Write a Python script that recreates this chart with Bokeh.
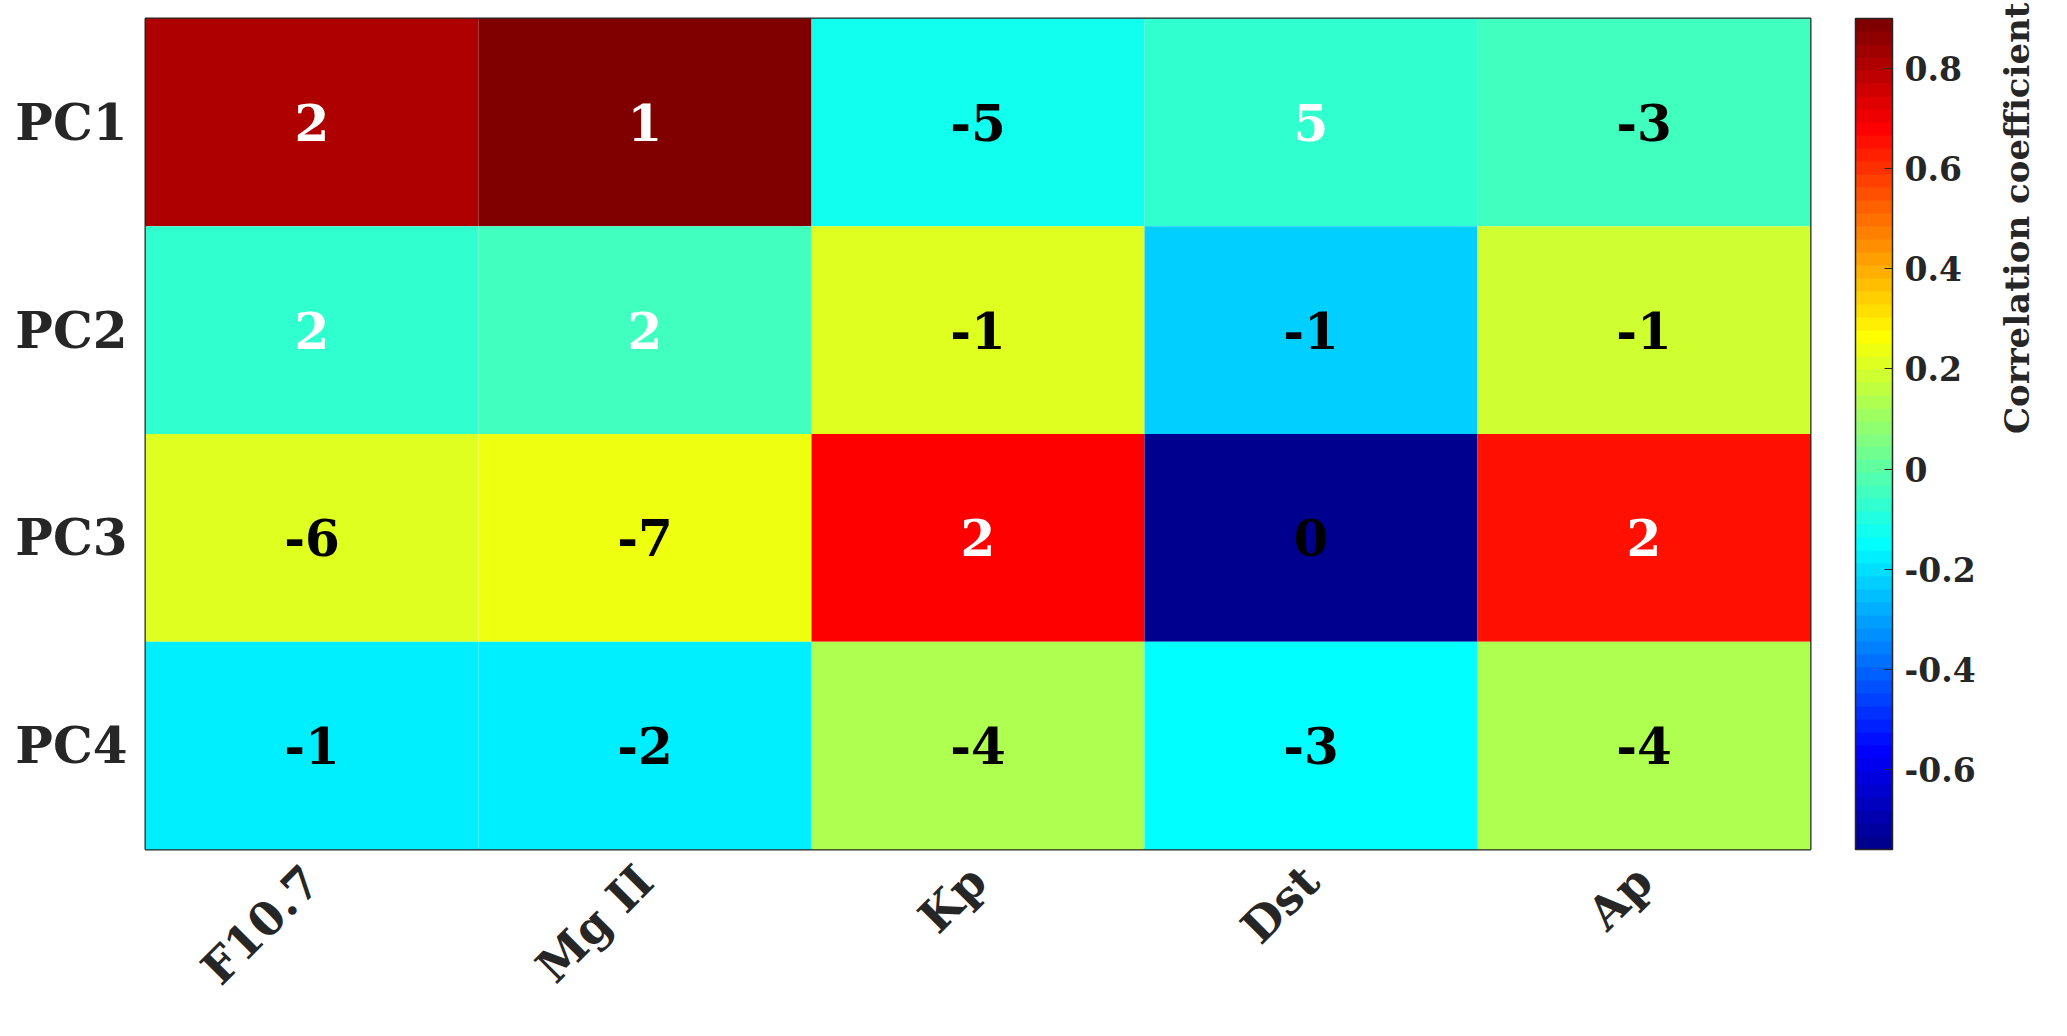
import numpy as np
from bokeh.plotting import figure
from bokeh.models import (ColumnDataSource, LinearColorMapper, ColorBar, FixedTicker,
                          FactorRange, CategoricalAxis, CustomJSTickFormatter)
from bokeh.core.properties import value
from bokeh.embed import file_html
from bokeh.resources import INLINE

# ---------------- data ----------------
variables = ["F10.7", "Mg II", "Kp", "Dst", "Ap"]
components = ["PC1", "PC2", "PC3", "PC4"]

corr_pc1 = [0.81, 0.90, -0.12, -0.07, -0.05]
corr_pc2 = [-0.07, -0.05, 0.21, -0.23, 0.19]
corr_pc3 = [0.21, 0.24, 0.68, -0.76, 0.65]
corr_pc4 = [-0.18, -0.18, 0.13, -0.15, 0.13]

labels_pc1 = [2, 1, -5, 5, -3]
labels_pc2 = [2, 2, -1, -1, -1]
labels_pc3 = [-6, -7, 2, 0, 2]
labels_pc4 = [-1, -2, -4, -3, -4]

colorbar_ticks = [-0.6, -0.4, -0.2, 0, 0.2, 0.4, 0.6, 0.8]
colorbar_title = "Correlation coefficient"

# ---------------- palette (MATLAB jet, 64 levels) ----------------
def matlab_jet(n=64):
    m = int(np.ceil(n / 4))
    u = np.concatenate([np.arange(1, m + 1) / m, np.ones(m - 1), np.arange(m, 0, -1) / m])
    g = int(np.ceil(m / 2)) - (1 if n % 4 == 1 else 0) + np.arange(1, len(u) + 1)
    r = g + m
    b = g - m
    R = np.zeros(n); G = np.zeros(n); B = np.zeros(n)
    for arr, idx in ((R, r), (G, g), (B, b)):
        ok = (idx >= 1) & (idx <= n)
        arr[idx[ok] - 1] = u[ok]
    return ["#%02x%02x%02x" % (int(round(255 * a)), int(round(255 * c)), int(round(255 * d)))
            for a, c, d in zip(R, G, B)]

jet = matlab_jet(64)

corr_rows = [corr_pc1, corr_pc2, corr_pc3, corr_pc4]
label_rows = [labels_pc1, labels_pc2, labels_pc3, labels_pc4]

xs, ys, vals, labs, tcols = [], [], [], [], []
for comp, crow, lrow in zip(components, corr_rows, label_rows):
    for var, c, l in zip(variables, crow, lrow):
        xs.append(var); ys.append(comp); vals.append(c)
        labs.append(str(l)); tcols.append("#ffffff" if l > 0 else "#000000")

src = ColumnDataSource(dict(x=xs, y=ys, v=vals, label=labs, tcol=tcols))

all_vals = [v for row in corr_rows for v in row]
mapper = LinearColorMapper(palette=jet, low=min(all_vals), high=max(all_vals))

FONT = "DejaVu Serif"
AX = "#262626"

p = figure(width=2066, height=1035,
           x_range=FactorRange(*variables, range_padding=0),
           y_range=FactorRange(*components[::-1], range_padding=0),
           output_backend="svg", toolbar_location=None,
           min_border_left=145, min_border_top=18, min_border_right=256, min_border_bottom=186)

p.rect(x="x", y="y", width=1, height=1, source=src,
       fill_color={"field": "v", "transform": mapper}, line_color=None)
p.text(x="x", y="y", text="label", source=src, text_color="tcol",
       text_font=value(FONT), text_font_style="bold", text_font_size="50px",
       text_align="center", text_baseline="middle")

p.outline_line_color = AX
p.outline_line_width = 2
p.xgrid.grid_line_color = None
p.ygrid.grid_line_color = None
for ax in (p.xaxis[0], p.yaxis[0]):
    ax.axis_line_color = None
    ax.major_tick_line_color = None
    ax.minor_tick_line_color = None
    ax.major_tick_out = 0
    ax.major_tick_in = 0
    ax.minor_tick_out = 0
    ax.minor_tick_in = 0
    ax.major_label_text_font = FONT
    ax.major_label_text_font_style = "bold"
    ax.major_label_text_color = AX
p.yaxis.major_label_text_font_size = "50px"
p.xaxis.major_label_text_font_size = "46px"
p.yaxis.major_label_standoff = 18
p.xaxis.major_label_standoff = 24
p.xaxis.major_label_orientation = np.pi / 4

cb = ColorBar(color_mapper=mapper,
              ticker=FixedTicker(ticks=colorbar_ticks),
              formatter=CustomJSTickFormatter(code="return Math.abs(tick) < 1e-9 ? '0' : tick.toFixed(1);"),
              width=37, height=831, padding=0, margin=0, location=(45, 0),
              major_label_text_font=FONT, major_label_text_font_style="bold",
              major_label_text_font_size="33px", major_label_text_color=AX,
              label_standoff=12, major_tick_in=8, major_tick_out=0,
              major_tick_line_color=AX, bar_line_color=AX, bar_line_width=1.5,
              border_line_color=None, background_fill_color=None)
p.add_layout(cb, "right")

# colorbar title as the label of a bare axis further right
p.extra_y_ranges = {"cbtitle": FactorRange(*components[::-1], range_padding=0)}
tax = CategoricalAxis(y_range_name="cbtitle", bounds=(0, 2.44),
                      axis_label=colorbar_title,
                      axis_line_color=None, major_tick_line_color=None, minor_tick_line_color=None,
                      major_tick_out=0, major_tick_in=0, minor_tick_out=0, minor_tick_in=0,
                      major_label_text_font_size="0px", major_label_text_color=None,
                      major_label_standoff=0,
                      axis_label_text_font=FONT, axis_label_text_font_style="bold",
                      axis_label_text_font_size="34px", axis_label_text_color=AX,
                      axis_label_standoff=38)
tax.axis_label_orientation = np.pi / 2
p.add_layout(tax, "right")

open("out.html", "w").write(file_html(p, INLINE))
